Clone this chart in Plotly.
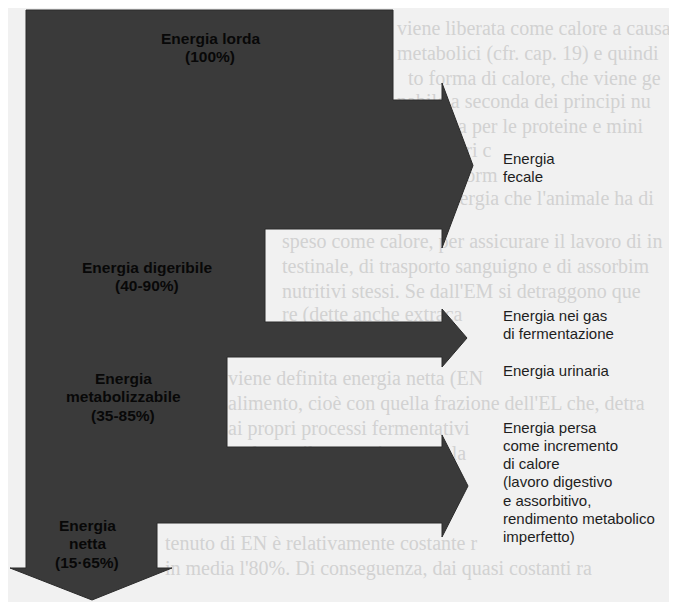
import plotly.graph_objects as go

# ---------------- data ----------------
stage_labels = [
    ["Energia lorda", "(100%)"],
    ["Energia digeribile", "(40-90%)"],
    ["Energia", "metabolizzabile", "(35-85%)"],
    ["Energia", "netta", "(15·65%)"],
]
loss_labels = [
    ["Energia", "fecale"],
    ["Energia nei gas", "di fermentazione"],
    ["Energia urinaria"],
    ["Energia persa", "come incremento", "di calore", "(lavoro digestivo",
     "e assorbitivo,", "rendimento metabolico", "imperfetto)"],
]

# faint page text showing through the scan (background)
bg_lines = [
    "viene liberata come calore a causa",
    "metabolici (cfr. cap. 19) e quindi",
    "to forma di calore, che viene ge",
    "nabile a seconda dei principi nu",
    "massima per le proteine e mini",
    "con valori c",
    "zione «norm",
    "quell'energia che l'animale ha di",
    "speso come calore, per assicurare il lavoro di in",
    "testinale, di trasporto sanguigno e di assorbim",
    "nutritivi stessi. Se dall'EM si detraggono que",
    "re (dette anche extraca",
    "viene definita energia netta (EN",
    "alimento, cioè con quella frazione dell'EL che, detra",
    "ai propri processi fermentativi",
    "male per il mantenimento e la",
    "tenuto di EN è relativamente costante r",
    "in media l'80%. Di conseguenza, dai quasi costanti ra",
]

# ---------------- geometry (data coordinates, page offset already removed) ----------------
W, H = 677, 602
trunk_left, trunk_top = 18, 2
trunk_right = [385, 257, 219, 149]
band_top = [92, 314, 439]
band_bot = [221, 349, 515]
head_x = 434
head_top = [75, 301, 427]
head_bot = [240, 359, 529]
tip_x = [465, 459, 460]
down_shaft_bot, down_head_left, down_head_right, down_tip = 560, 2, 164, (84, 592)

stage_pos = [(202, 30), (139, 259), (115, 370), (79, 517)]   # centre x, first-line y
stage_step = 18.5
loss_pos = [(493, 150), (493, 307), (493, 362), (493, 419)]  # left x, first-line y
loss_step = 18.3

bg_x = [389, 389, 400, 389, 389, 389, 389, 389, 274, 274, 274, 274,
        220, 220, 220, 220, 157, 157]
bg_y = [22, 47, 72, 95, 120, 144, 169, 192, 235, 260, 285, 308,
        372, 397, 422, 447, 537, 562]

# build outline
px = [trunk_left, trunk_right[0]]
py = [trunk_top, trunk_top]
for i in range(3):
    mid = (head_top[i] + head_bot[i]) / 2
    px += [trunk_right[i], head_x, head_x, tip_x[i], head_x, head_x, trunk_right[i + 1]]
    py += [band_top[i], band_top[i], head_top[i], mid, head_bot[i], band_bot[i], band_bot[i]]
px += [trunk_right[3], down_head_right, down_tip[0], down_head_left, trunk_left, trunk_left]
py += [down_shaft_bot, down_shaft_bot, down_tip[1], down_shaft_bot, down_shaft_bot, trunk_top]

fig = go.Figure()

fig.add_trace(go.Scatter(
    x=bg_x, y=bg_y, text=bg_lines, mode="text",
    textposition="middle right",
    textfont=dict(family="Liberation Serif, DejaVu Serif, serif", size=20, color="#d2d2d2"),
    hoverinfo="skip", showlegend=False,
))

fig.add_trace(go.Scatter(
    x=px, y=py, mode="lines", fill="toself",
    fillcolor="#3a3a3a", line=dict(color="#2a2a2a", width=1),
    hoverinfo="skip", showlegend=False,
))

ann = []
for lines, (x, y0) in zip(stage_labels, stage_pos):
    for k, line in enumerate(lines):
        ann.append(dict(x=x, y=y0 + k * stage_step, text="<b>" + line + "</b>", showarrow=False,
                        xanchor="center", yanchor="middle",
                        font=dict(family="Liberation Sans, Arial, sans-serif", size=15.5, color="#080808")))
for lines, (x, y0) in zip(loss_labels, loss_pos):
    for k, line in enumerate(lines):
        ann.append(dict(x=x, y=y0 + k * loss_step, text=line, showarrow=False,
                        xanchor="left", yanchor="middle",
                        font=dict(family="Liberation Sans, Arial, sans-serif", size=15, color="#1e1e1e")))

fig.update_layout(
    width=W, height=H,
    margin=dict(l=0, r=0, t=0, b=0),
    paper_bgcolor="#f1f1f1", plot_bgcolor="#f1f1f1",
    xaxis=dict(range=[0, W], visible=False, fixedrange=True),
    yaxis=dict(range=[H, 0], visible=False, fixedrange=True),
    annotations=ann,
    showlegend=False,
)

fig.write_html("out.html")
